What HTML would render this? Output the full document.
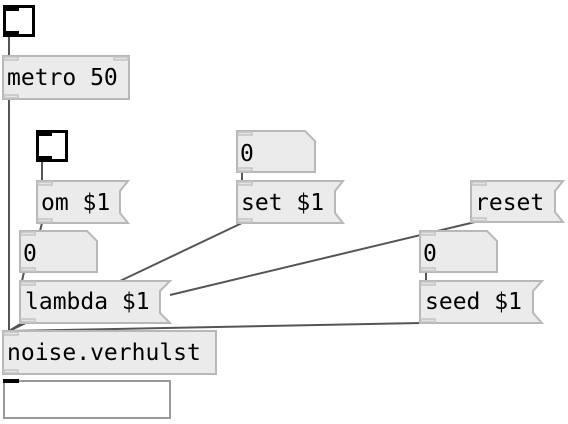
<!DOCTYPE html>
<html><head><style>
html,body{margin:0;padding:0;background:#fff;}
svg{display:block;}
text{font-family:"DejaVu Sans Mono","Liberation Mono",monospace;font-size:23px;fill:#000;}
.b{fill:#ebebeb;stroke:#b8b8b8;stroke-width:2;}
.io{fill:#e4e4e4;stroke:#c4c4c4;stroke-width:1.5;}
.w{stroke:#555;stroke-width:2;fill:none;}
</style></head><body>
<svg width="568" height="424" viewBox="0 0 568 424">
<line class="w" x1="9" y1="37" x2="9" y2="56"/>
<line class="w" x1="9" y1="99" x2="9" y2="331"/>
<line class="w" x1="42" y1="162" x2="42" y2="181"/>
<line class="w" x1="42" y1="223" x2="40" y2="231"/>
<line class="w" x1="24" y1="272" x2="22" y2="281"/>
<line class="w" x1="242" y1="172" x2="242" y2="181"/>
<line class="w" x1="242" y1="223" x2="120" y2="281"/>
<line class="w" x1="475" y1="222" x2="170" y2="295"/>
<line class="w" x1="426" y1="272" x2="426" y2="281"/>
<line class="w" x1="22" y1="323" x2="9" y2="331"/>
<line class="w" x1="421" y1="323" x2="9" y2="331"/>
<line class="w" x1="28" y1="322" x2="9" y2="331"/>

<rect x="4.5" y="6.5" width="29" height="29" fill="#fff" stroke="#000" stroke-width="3"/>
<rect x="3" y="5" width="16" height="6" fill="#000"/>
<rect x="3" y="31" width="16" height="6" fill="#000"/>

<rect class="b" x="3" y="56" width="126" height="43"/>
<rect class="io" x="4" y="57" width="14" height="3"/>
<rect class="io" x="114" y="57" width="14" height="3"/>
<rect class="io" x="4" y="95" width="14" height="3"/>
<text x="7" y="85">metro 50</text>

<rect x="37.5" y="131.5" width="29" height="29" fill="#fff" stroke="#000" stroke-width="3"/>
<rect x="36" y="130" width="16" height="6" fill="#000"/>
<rect x="36" y="156" width="16" height="6" fill="#000"/>

<path class="b" d="M37 181 H128 L120 191 V213 L128 223 H37 Z"/>
<rect class="io" x="38" y="182" width="14" height="3"/>
<rect class="io" x="38" y="219" width="14" height="3"/>
<text x="41" y="210">om $1</text>

<path class="b" d="M237 131 H305 L315 141 V172 H237 Z"/>
<rect class="io" x="238" y="132" width="14" height="3"/>
<rect class="io" x="238" y="168" width="14" height="3"/>
<text x="240" y="161">0</text>

<path class="b" d="M237 181 H343 L335 191 V213 L343 223 H237 Z"/>
<rect class="io" x="238" y="182" width="14" height="3"/>
<rect class="io" x="238" y="219" width="14" height="3"/>
<text x="241" y="210">set $1</text>

<path class="b" d="M471 181 H563 L555 191 V212 L563 222 H471 Z"/>
<rect class="io" x="472" y="182" width="14" height="3"/>
<rect class="io" x="472" y="218" width="14" height="3"/>
<text x="475" y="210">reset</text>

<path class="b" d="M20 231 H87 L97 241 V272 H20 Z"/>
<rect class="io" x="21" y="232" width="14" height="3"/>
<rect class="io" x="21" y="268" width="14" height="3"/>
<text x="23" y="261">0</text>

<path class="b" d="M20 281 H170 L160 291 V313 L170 323 H20 Z"/>
<rect class="io" x="21" y="282" width="14" height="3"/>
<rect class="io" x="21" y="319" width="14" height="3"/>
<text x="25" y="309">lambda $1</text>

<path class="b" d="M420 231 H487 L497 241 V272 H420 Z"/>
<rect class="io" x="421" y="232" width="14" height="3"/>
<rect class="io" x="421" y="268" width="14" height="3"/>
<text x="423" y="261">0</text>

<path class="b" d="M420 281 H542 L533 291 V313 L542 323 H420 Z"/>
<rect class="io" x="421" y="282" width="14" height="3"/>
<rect class="io" x="421" y="319" width="14" height="3"/>
<text x="425" y="309">seed $1</text>

<rect class="b" x="3" y="331" width="213" height="43"/>
<rect class="io" x="4" y="332" width="14" height="3"/>
<rect class="io" x="4" y="370" width="14" height="3"/>
<text x="7" y="360">noise.verhulst</text>

<rect x="4" y="381" width="166" height="37" fill="#fff" stroke="#999" stroke-width="2"/>
<rect x="3" y="379" width="16" height="4" fill="#000"/>
</svg>
</body></html>
